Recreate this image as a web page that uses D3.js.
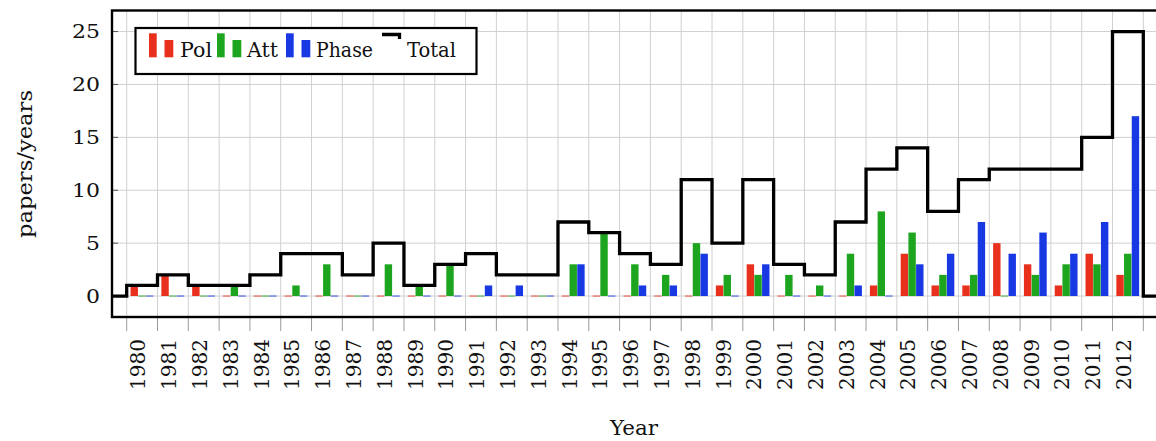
<!DOCTYPE html>
<html><head><meta charset="utf-8">
<script src="https://cdn.jsdelivr.net/npm/d3@7/dist/d3.min.js"></script>
<style>
body{margin:0;background:#fff}
svg{display:block}
text{font-family:"DejaVu Serif",serif;fill:#111}
</style>
</head><body>
<svg id="c" width="1156" height="441"></svg>
<script>
// ---- data ----
const years = [1980,1981,1982,1983,1984,1985,1986,1987,1988,1989,1990,1991,1992,1993,1994,1995,1996,1997,1998,1999,2000,2001,2002,2003,2004,2005,2006,2007,2008,2009,2010,2011,2012];
const pol   = [1,2,1,0,0,0,0,0,0,0,0,0,0,0,0,0,0,0,0,1,3,0,0,0,1,4,1,1,5,3,1,4,2];
const att   = [0,0,0,1,0,1,3,0,3,1,3,0,0,0,3,6,3,2,5,2,2,2,1,4,8,6,2,2,0,2,3,3,4];
const phase = [0,0,0,0,0,0,0,0,0,0,0,1,1,0,3,0,1,1,4,0,3,0,0,1,0,3,4,7,4,6,4,7,17];
const total = [1,2,1,1,2,4,4,2,5,1,3,4,2,2,7,6,4,3,11,5,11,3,2,7,12,14,8,11,12,12,12,15,25];
const yTicks = [0,5,10,15,20,25];
const seriesNames = ["Pol","Att","Phase"];
const seriesColors = ["#e8301c","#1ea51f","#1838e4"];

// ---- layout ----
const svg = d3.select("#c");
const frame = {x0:112, x1:1158, y0:10.5, y1:317};
const x = d3.scaleBand().domain(years).range([126.7, 1143.3]).paddingInner(0).paddingOuter(0);
const y = d3.scaleLinear().domain([-2, 27]).range([317.2, 10.4]);
const barW = 7.7;
const series = [pol, att, phase];

// grid
const gridG = svg.append("g").attr("stroke","#d0d0d0").attr("stroke-width",1);
const bounds = years.map(d => x(d)).concat([x(years[years.length-1]) + x.bandwidth()]);
gridG.selectAll("line.v").data(bounds).join("line")
  .attr("x1", d=>d).attr("x2", d=>d).attr("y1", frame.y0).attr("y2", frame.y1);
gridG.selectAll("line.h").data(yTicks).join("line")
  .attr("x1", frame.x0).attr("x2", frame.x1).attr("y1", d=>y(d)).attr("y2", d=>y(d));

// small y ticks inside
svg.append("g").attr("stroke","#555").attr("stroke-width",1)
  .selectAll("line").data(yTicks).join("line")
  .attr("x1", frame.x0).attr("x2", frame.x0+6).attr("y1", d=>y(d)).attr("y2", d=>y(d));

// x tick marks below
svg.append("g").attr("stroke","#9a9a9a").attr("stroke-width",1)
  .selectAll("line").data(bounds).join("line")
  .attr("x1", d=>d).attr("x2", d=>d).attr("y1", frame.y1).attr("y2", frame.y1+14);

// bars
series.forEach((vals, si) => {
  svg.append("g").attr("fill", seriesColors[si])
    .selectAll("rect").data(years.map((yr,i)=>({yr, v:vals[i]}))).join("rect")
    .attr("x", d => x(d.yr) + x.bandwidth()/2 - 1.5*barW + si*barW)
    .attr("width", barW - 0.3)
    .attr("y", d => d.v > 0 ? y(d.v) : y(0) - 0.6)
    .attr("height", d => d.v > 0 ? y(0) - y(d.v) : 1.2)
    .attr("opacity", d => d.v > 0 ? 1 : 0.7);
});

// total step line
const pts = [[frame.x0, 0]].concat(years.map((yr,i)=>[x(yr), total[i]]))
  .concat([[x(years[years.length-1]) + x.bandwidth(), 0], [frame.x1, 0]]);
svg.append("path")
  .attr("d", d3.line().x(d=>d[0]).y(d=>y(d[1])).curve(d3.curveStepAfter)(pts))
  .attr("fill","none").attr("stroke","#000").attr("stroke-width",3.3).attr("stroke-linejoin","miter");

// frame
svg.append("rect").attr("x", frame.x0).attr("y", frame.y0)
  .attr("width", frame.x1-frame.x0).attr("height", frame.y1-frame.y0)
  .attr("fill","none").attr("stroke","#000").attr("stroke-width",2.4);

// y tick labels
svg.append("g").selectAll("text").data(yTicks).join("text")
  .attr("x", 100).attr("y", d=>y(d)).attr("dy","0.36em")
  .attr("text-anchor","end").attr("font-size",19)
  .attr("textLength", d => String(d).length*14).attr("lengthAdjust","spacingAndGlyphs")
  .text(d=>d);

// x tick labels
svg.append("g").selectAll("text").data(years).join("text")
  .attr("transform", d => `translate(${x(d)+x.bandwidth()/2-4},339) rotate(-90)`)
  .attr("text-anchor","end").attr("dy","0.36em").attr("font-size",20)
  .attr("textLength",51).attr("lengthAdjust","spacingAndGlyphs")
  .text(d=>d);

// axis titles
svg.append("text").attr("x",634).attr("y",435).attr("text-anchor","middle")
  .attr("font-size",20).attr("textLength",48).attr("lengthAdjust","spacingAndGlyphs").text("Year");
svg.append("text").attr("transform","translate(32,164) rotate(-90)").attr("text-anchor","middle")
  .attr("font-size",21).attr("textLength",148).attr("lengthAdjust","spacingAndGlyphs").text("papers/years");

// legend
const lg = svg.append("g");
lg.append("rect").attr("x",135.5).attr("y",28).attr("width",341).attr("height",46)
  .attr("fill","#fff").attr("stroke","#000").attr("stroke-width",2.2);
const legItems = [
  {name:seriesNames[0], color:seriesColors[0], bx:149, tx:180, tw:32},
  {name:seriesNames[1], color:seriesColors[1], bx:217, tx:247, tw:31},
  {name:seriesNames[2], color:seriesColors[2], bx:286, tx:316, tw:57}
];
legItems.forEach(it => {
  lg.append("rect").attr("x",it.bx).attr("y",33.3).attr("width",7.7).attr("height",24).attr("fill",it.color);
  lg.append("rect").attr("x",it.bx+15.5).attr("y",40).attr("width",8.8).attr("height",17.3).attr("fill",it.color);
  lg.append("text").attr("x",it.tx).attr("y",57.3).attr("font-size",19.5)
    .attr("textLength",it.tw).attr("lengthAdjust","spacingAndGlyphs").text(it.name);
});
lg.append("path").attr("d","M382,34.5H399.5V39").attr("fill","none").attr("stroke","#000").attr("stroke-width",3.3);
lg.append("text").attr("x",407).attr("y",57.3).attr("font-size",19.5)
  .attr("textLength",49).attr("lengthAdjust","spacingAndGlyphs").text("Total");
</script>
</body></html>
